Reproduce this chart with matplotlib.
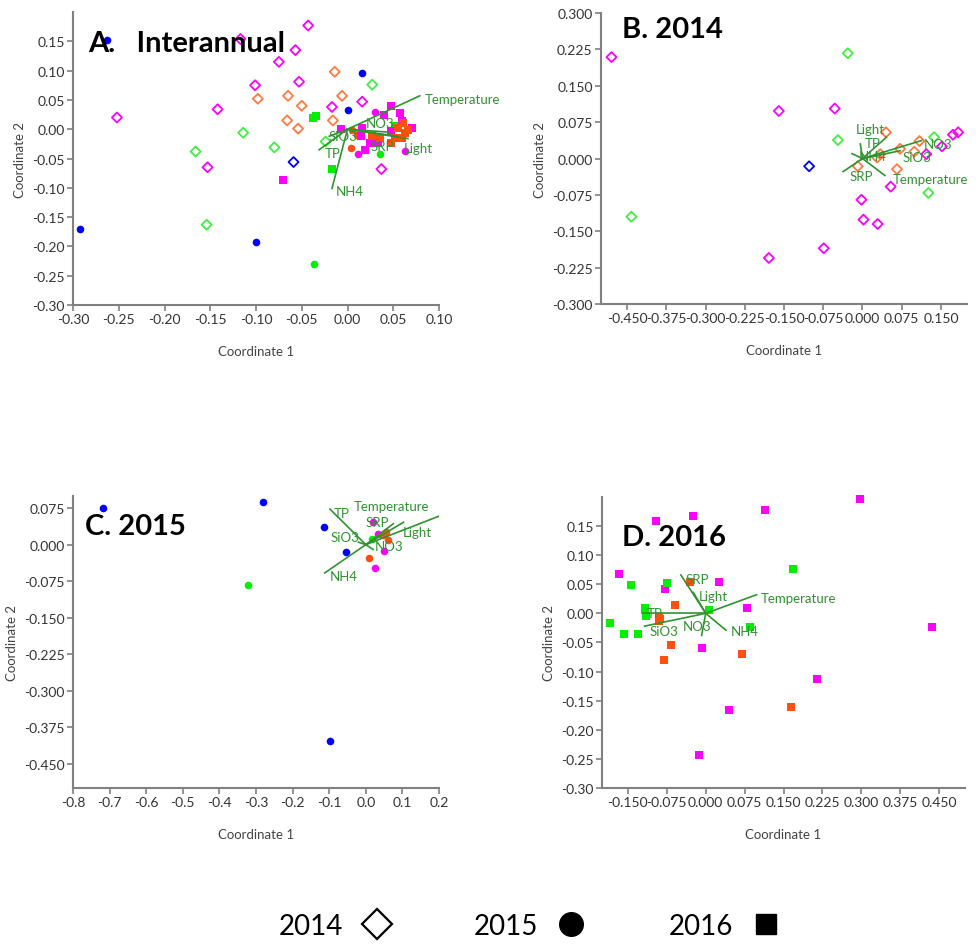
import matplotlib
matplotlib.use('Agg')
import matplotlib.pyplot as plt
from matplotlib.lines import Line2D

plt.rcParams['font.family'] = ['Lato', 'DejaVu Sans']

BLUE = '#0000ff'
MAG = '#ff00ff'
ORG = '#ff5010'
ORG_H = '#ff7a40'
GRN = '#00ee00'
GRN_H = '#40f040'
VEC = '#2f932f'

# ---- panel A (interannual) ----
a_2014_magenta = [(-0.252, 0.020), (-0.142, 0.034), (-0.153, -0.065), (-0.101, 0.075), (-0.075, 0.115),
                  (-0.057, 0.135), (-0.043, 0.177), (-0.117, 0.154), (-0.053, 0.081), (-0.017, 0.038),
                  (0.016, 0.047), (0.037, -0.068)]
a_2014_orange = [(-0.014, 0.098), (-0.098, 0.052), (-0.065, 0.057), (-0.050, 0.040), (-0.006, 0.057),
                 (-0.066, 0.015), (-0.054, 0.001), (-0.016, 0.015)]
a_2014_green = [(0.027, 0.076), (-0.114, -0.006), (-0.166, -0.038), (-0.080, -0.031), (-0.154, -0.163),
                (-0.024, -0.021)]
a_2014_blue = [(-0.059, -0.056)]
a_2015_blue = [(-0.263, 0.153), (0.016, 0.096), (0.000, 0.032), (-0.292, -0.171), (-0.100, -0.193)]
a_2015_green = [(-0.037, -0.230), (0.036, -0.042)]
a_2015_magenta = [(0.030, 0.029), (0.012, -0.043), (0.063, -0.037)]
a_2015_orange = [(0.004, -0.032), (0.010, -0.010), (0.005, -0.001), (0.052, 0.006)]
a_2016_green = [(-0.038, 0.020), (-0.034, 0.023), (-0.017, -0.068), (0.052, 0.006)]
a_2016_magenta = [(-0.071, -0.087), (0.047, 0.040), (0.057, 0.028), (0.040, 0.025), (0.060, 0.014),
                  (0.071, 0.002), (0.016, 0.002), (0.015, -0.011), (0.025, -0.023), (0.019, -0.035),
                  (0.033, -0.023), (0.047, -0.003), (-0.007, 0.001)]
a_2016_orange = [(0.061, 0.011), (0.055, 0.002), (0.063, -0.006), (0.052, -0.015), (0.036, -0.015),
                 (0.047, -0.023), (0.060, -0.015), (0.066, -0.001), (0.027, -0.011)]
a_vec_names = ['Temperature', 'NO3', 'SiO3', 'TP', 'SRP', 'Light', 'NH4']
a_vec_end = [(0.079, 0.057), (0.045, -0.005), (-0.020, -0.012), (-0.031, -0.035), (0.055, -0.012),
             (0.066, -0.016), (-0.017, -0.101)]
a_vec_lab = [(0.084, 0.051), (0.020, 0.011), (-0.021, -0.011), (-0.025, -0.041), (0.025, -0.029),
             (0.061, -0.032), (-0.013, -0.106)]

# ---- panel B (2014) ----
b_magenta = [(-0.480, 0.209), (-0.160, 0.098), (-0.053, 0.103), (-0.179, -0.205), (-0.074, -0.185),
             (-0.002, -0.085), (0.002, -0.126), (0.029, -0.135), (0.054, -0.058), (0.122, 0.009),
             (0.152, 0.025), (0.173, 0.049), (0.183, 0.054)]
b_green = [(-0.028, 0.217), (-0.047, 0.038), (-0.442, -0.120), (0.137, 0.044), (0.126, -0.071)]
b_blue = [(-0.102, -0.016)]
b_orange = [(0.045, 0.054), (0.109, 0.036), (0.072, 0.020), (0.099, 0.014), (0.028, 0.002),
            (0.034, 0.009), (-0.009, -0.016), (0.066, -0.022)]
b_vec_names = ['Light', 'TP', 'NH4', 'NO3', 'SiO3', 'SRP', 'Temperature']
b_vec_end = [(0.046, 0.044), (-0.004, 0.030), (-0.020, 0.010), (0.113, 0.037), (0.072, 0.016),
             (-0.037, -0.027), (0.043, -0.035)]
b_vec_lab = [(-0.013, 0.061), (0.005, 0.033), (-0.008, 0.006), (0.118, 0.030), (0.076, 0.003),
             (-0.025, -0.036), (0.058, -0.042)]

# ---- panel C (2015) ----
c_blue = [(-0.717, 0.075), (-0.280, 0.088), (-0.114, 0.037), (-0.054, -0.016), (-0.098, -0.404)]
c_green = [(-0.323, -0.082), (0.016, 0.012)]
c_magenta = [(0.019, 0.046), (0.034, 0.022), (0.050, -0.014), (0.025, -0.047)]
c_orange = [(0.010, -0.027), (0.048, 0.020), (0.062, 0.010), (0.055, 0.025)]
c_vec_names = ['TP', 'Temperature', 'SRP', 'SiO3', 'Light', 'NO3', 'NH4']
c_vec_end = [(-0.098, 0.073), (0.103, 0.046), (0.075, 0.043), (-0.020, 0.005), (0.198, 0.058),
             (0.020, -0.010), (-0.112, -0.058)]
c_vec_lab = [(-0.088, 0.065), (-0.033, 0.080), (-0.002, 0.046), (-0.096, 0.015), (0.102, 0.026),
             (0.025, -0.002), (-0.098, -0.065)]

# ---- panel D (2016) ----
d_magenta = [(0.298, 0.196), (0.114, 0.178), (-0.025, 0.167), (-0.095, 0.159), (-0.167, 0.068),
             (-0.079, 0.041), (0.026, 0.054), (0.079, 0.009), (0.437, -0.024), (-0.008, -0.059),
             (0.214, -0.113), (0.044, -0.166), (-0.013, -0.244)]
d_green = [(0.168, 0.077), (-0.144, 0.048), (-0.075, 0.052), (-0.117, 0.009), (-0.115, -0.004),
           (-0.184, -0.017), (-0.158, -0.035), (-0.130, -0.035), (0.007, 0.005), (0.086, -0.023)]
d_orange = [(-0.031, 0.054), (-0.059, 0.014), (-0.090, -0.007), (-0.091, -0.014), (-0.088, -0.010),
            (-0.067, -0.054), (-0.080, -0.081), (0.070, -0.069), (0.164, -0.161)]
d_vec_names = ['SRP', 'Light', 'Temperature', 'TP', 'SiO3', 'NO3', 'NH4']
d_vec_end = [(-0.048, 0.066), (-0.024, 0.036), (0.098, 0.032), (-0.123, 0.000), (-0.118, -0.022),
             (-0.008, -0.038), (0.039, -0.029)]
d_vec_lab = [(-0.038, 0.059), (-0.014, 0.029), (0.106, 0.026), (-0.113, 0.001), (-0.109, -0.030),
             (-0.045, -0.021), (0.049, -0.031)]


def pts(ax, data, marker, color, hollow=False, size=30):
    xs = [p[0] for p in data]
    ys = [p[1] for p in data]
    if hollow:
        ax.scatter(xs, ys, marker=marker, s=size, facecolors='none', edgecolors=color, linewidths=1.3,
                   zorder=3, clip_on=False)
    else:
        ax.scatter(xs, ys, marker=marker, s=size, c=color, linewidths=0, zorder=3, clip_on=False)


def vectors(ax, names, ends, labs):
    for n, e, l in zip(names, ends, labs):
        ax.plot([0, e[0]], [0, e[1]], color=VEC, lw=1.2, zorder=4)
        ax.text(l[0], l[1], n, color=VEC, fontsize=9.5, va='center', ha='left', zorder=5)


def style(ax, xlim, ylim, xt, yt, fmt, title, tpos):
    ax.set_xlim(xlim)
    ax.set_ylim(ylim)
    ax.set_xticks(xt)
    ax.set_yticks(yt)
    ax.set_xticklabels([fmt.format(v) for v in xt])
    ax.set_yticklabels([fmt.format(v) for v in yt])
    for s in ['top', 'right']:
        ax.spines[s].set_visible(False)
    for s in ['left', 'bottom']:
        ax.spines[s].set_color('#808080')
        ax.spines[s].set_linewidth(1.5)
    ax.tick_params(direction='out', length=4, width=1.2, color='#808080', labelsize=10, labelcolor='#333333', pad=2)
    ax.set_xlabel('Coordinate 1', fontsize=9.5, color='#444444', labelpad=14)
    ax.set_ylabel('Coordinate 2', fontsize=9.5, color='#444444', labelpad=4)
    ax.text(tpos[0], tpos[1], title, transform=ax.transAxes, fontsize=21, fontweight='bold',
            va='center', ha='left', zorder=6)


fig = plt.figure(figsize=(9.76, 9.45), dpi=100)
axA = fig.add_axes([0.0748, 0.6762, 0.375, 0.310])
axB = fig.add_axes([0.6158, 0.6772, 0.375, 0.308])
axC = fig.add_axes([0.0748, 0.1651, 0.375, 0.309])
axD = fig.add_axes([0.6168, 0.1651, 0.372, 0.308])

# A
pts(axA, a_2014_magenta, 'D', MAG, True, 26)
pts(axA, a_2014_orange, 'D', ORG_H, True, 26)
pts(axA, a_2014_green, 'D', GRN_H, True, 26)
pts(axA, a_2014_blue, 'D', BLUE, True, 26)
pts(axA, a_2015_blue, 'o', BLUE)
pts(axA, a_2015_green, 'o', GRN)
pts(axA, a_2015_magenta, 'o', MAG)
pts(axA, a_2015_orange, 'o', ORG)
pts(axA, a_2016_green, 's', GRN, size=40)
pts(axA, a_2016_magenta, 's', MAG, size=40)
pts(axA, a_2016_orange, 's', ORG, size=40)
vectors(axA, a_vec_names, a_vec_end, a_vec_lab)
ya = [-0.30, -0.25, -0.20, -0.15, -0.10, -0.05, 0.00, 0.05, 0.10, 0.15]
style(axA, (-0.30, 0.10), (-0.30, 0.20), ya[:9], ya, '{:.2f}', 'A.   Interannual', (0.041, 0.894))

# B
pts(axB, b_magenta, 'D', MAG, True, 26)
pts(axB, b_green, 'D', GRN_H, True, 26)
pts(axB, b_blue, 'D', BLUE, True, 26)
pts(axB, b_orange, 'D', ORG_H, True, 26)
vectors(axB, b_vec_names, b_vec_end, b_vec_lab)
xb = [-0.450, -0.375, -0.300, -0.225, -0.150, -0.075, 0.000, 0.075, 0.150]
yb = [-0.300, -0.225, -0.150, -0.075, 0.000, 0.075, 0.150, 0.225, 0.300]
style(axB, (-0.5, 0.2), (-0.3, 0.3), xb, yb, '{:.3f}', 'B. 2014', (0.057, 0.945))

# C
pts(axC, c_blue, 'o', BLUE)
pts(axC, c_green, 'o', GRN)
pts(axC, c_magenta, 'o', MAG)
pts(axC, c_orange, 'o', ORG)
vectors(axC, c_vec_names, c_vec_end, c_vec_lab)
xc = [-0.8, -0.7, -0.6, -0.5, -0.4, -0.3, -0.2, -0.1, 0.0, 0.1, 0.2]
yc = [-0.450, -0.375, -0.300, -0.225, -0.150, -0.075, 0.000, 0.075]
style(axC, (-0.8, 0.2), (-0.5, 0.1), xc, yc, '{:.3f}', 'C. 2015', (0.033, 0.897))
axC.set_xticklabels(['{:.1f}'.format(v) for v in xc])

# D
pts(axD, d_magenta, 's', MAG, size=40)
pts(axD, d_green, 's', GRN, size=40)
pts(axD, d_orange, 's', ORG, size=40)
vectors(axD, d_vec_names, d_vec_end, d_vec_lab)
xd = [-0.150, -0.075, 0.000, 0.075, 0.150, 0.225, 0.300, 0.375, 0.450]
yd = [-0.30, -0.25, -0.20, -0.15, -0.10, -0.05, 0.00, 0.05, 0.10, 0.15]
style(axD, (-0.2, 0.5), (-0.3, 0.2), xd, yd, '{:.2f}', 'D. 2016', (0.055, 0.862))
axD.set_xticklabels(['{:.3f}'.format(v) for v in xd])

handles = [
    Line2D([], [], ls='none', marker='D', markersize=15, markerfacecolor='white', markeredgecolor='black', markeredgewidth=1.6),
    Line2D([], [], ls='none', marker='o', markersize=17, color='black'),
    Line2D([], [], ls='none', marker='s', markersize=14, color='black'),
]
fig.legend(handles, ['2014', '2015', '2016'], loc='center', bbox_to_anchor=(0.544, 0.019), ncol=3,
           frameon=False, markerfirst=False, fontsize=20, columnspacing=2.9, handletextpad=0.6, handlelength=1.2)

fig.savefig('out.png', dpi=100)
